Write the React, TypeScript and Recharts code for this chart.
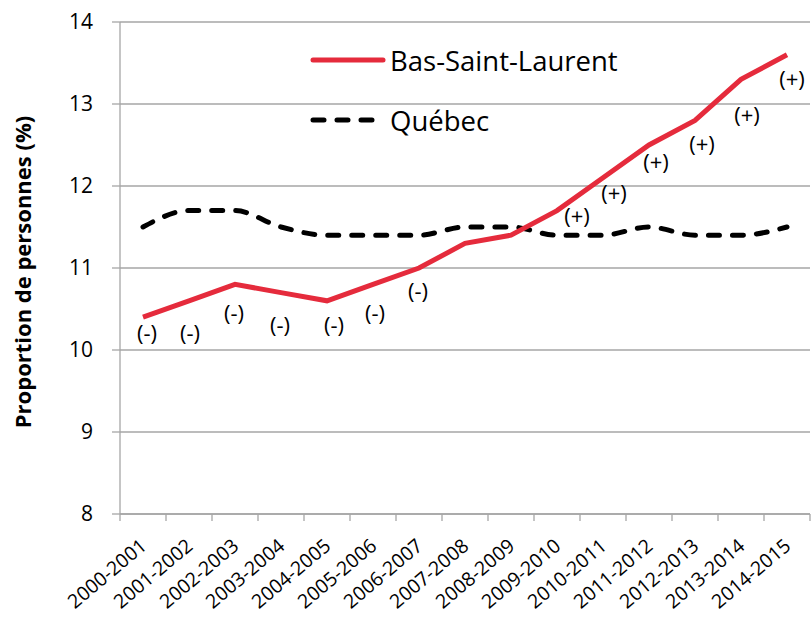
import { CartesianGrid, LabelList, Legend, Line, LineChart, XAxis, YAxis } from "recharts";

const periods = [
  "2000-2001", "2001-2002", "2002-2003", "2003-2004", "2004-2005",
  "2005-2006", "2006-2007", "2007-2008", "2008-2009", "2009-2010",
  "2010-2011", "2011-2012", "2012-2013", "2013-2014", "2014-2015",
];
const basSaintLaurent = [10.4, 10.6, 10.8, 10.7, 10.6, 10.8, 11.0, 11.3, 11.4, 11.7, 12.1, 12.5, 12.8, 13.3, 13.6];
const quebec = [11.5, 11.7, 11.7, 11.5, 11.4, 11.4, 11.4, 11.5, 11.5, 11.4, 11.4, 11.5, 11.4, 11.4, 11.5];
// écart significatif par rapport au Québec
const significance = ["(-)", "(-)", "(-)", "(-)", "(-)", "(-)", "(-)", "", "", "(+)", "(+)", "(+)", "(+)", "(+)", "(+)"];
const yTicks = [8, 9, 10, 11, 12, 13, 14];

const W = 811;
const H = 619;
const LEFT = 120;
const RIGHT = 1;
const FONT = "'Open Sans', Lato, sans-serif";
const RED = "#e52b3c";
const GRID = "#a6a6a6";
const band = (W - LEFT - RIGHT) / periods.length;

// hand-placed label nudges (px from the point), like in the original
const labelNudge: [number, number][] = [
  [4, 18], [1, 34], [-1, 31], [-1, 34], [7, 26], [2, 31], [-1, 25], [0, 0], [0, 0],
  [20, 7], [11, 17], [7, 19], [7, 26], [6, 38], [5, 26],
];

const data = periods.map((p, i) => ({
  x: i + 0.5,
  period: p,
  bsl: basSaintLaurent[i],
  qc: quebec[i],
  sig: significance[i],
}));
const boundaries = periods.map((_, i) => i).concat(periods.length);

function PeriodTick(props: any) {
  const { x, y, payload } = props;
  const i = payload.value;
  if (i >= periods.length) return null;
  const cx = x + band / 2;
  return (
    <text
      transform={`translate(${cx + 5},${y + 25}) rotate(-40)`}
      textAnchor="end"
      fontSize={19.5}
      fontFamily={FONT}
      fill="#000"
    >
      {periods[i]}
    </text>
  );
}

function SigLabel(props: any) {
  const { x, y, value, index } = props;
  if (!value) return null;
  const [dx, dy] = labelNudge[index] || [0, 26];
  return (
    <text
      x={x + dx}
      y={y + dy}
      dy={6}
      textAnchor="middle"
      fontSize={22}
      fontFamily={FONT}
      fill="#000"
    >
      {value}
    </text>
  );
}

const legendOrder = ["Bas-Saint-Laurent", "Québec"];

function ChartLegend(props: any) {
  const items = [...(props.payload || [])].sort(
    (a: any, b: any) => legendOrder.indexOf(a.value) - legendOrder.indexOf(b.value)
  );
  return (
    <div style={{ fontFamily: FONT, fontSize: 27.5 }}>
      {items.map((it: any) => {
        const dashed = it.value === "Québec";
        return (
          <div key={it.value} style={{ display: "flex", alignItems: "center", height: 60 }}>
            <svg width={80} height={10}>
              <line
                x1={3}
                y1={5}
                x2={dashed ? 65 : 73}
                y2={5}
                stroke={dashed ? "#000" : RED}
                strokeWidth={5}
                strokeLinecap="round"
                strokeDasharray={dashed ? "11 13" : undefined}
              />
            </svg>
            <span>{it.value}</span>
          </div>
        );
      })}
    </div>
  );
}

export default function App() {
  return (
    <div style={{ position: "absolute", left: 0, top: 0, width: W, height: H, background: "#fff" }}>
      <LineChart width={W} height={H} data={data} margin={{ top: 22, right: RIGHT, left: 0, bottom: 0 }}>
        <CartesianGrid stroke={GRID} strokeWidth={1.3} vertical={false} />
        <XAxis
          dataKey="x"
          type="number"
          domain={[0, periods.length]}
          ticks={boundaries}
          interval={0}
          height={H - 22 - 492}
          stroke={GRID}
          strokeWidth={1.3}
          tickSize={7}
          tick={<PeriodTick />}
        />
        <YAxis
          domain={[8, 14]}
          ticks={yTicks}
          width={LEFT}
          stroke={GRID}
          strokeWidth={1.3}
          tickSize={8}
          tickMargin={19}
          tick={{ fill: "#000", fontSize: 21, fontFamily: FONT }}
        />
        <Legend
          layout="vertical"
          align="center"
          verticalAlign="middle"
          content={<ChartLegend />}
          wrapperStyle={{ left: 310, top: 30, width: 360 }}
        />
        <Line
          name="Québec"
          dataKey="qc"
          type="monotone"
          stroke="#000"
          strokeWidth={5}
          strokeDasharray="11 13"
          strokeLinecap="round"
          dot={false}
          activeDot={false}
          isAnimationActive={false}
        />
        <Line
          name="Bas-Saint-Laurent"
          dataKey="bsl"
          type="linear"
          stroke={RED}
          strokeWidth={5}
          dot={false}
          activeDot={false}
          isAnimationActive={false}
        >
          <LabelList dataKey="sig" content={<SigLabel />} />
        </Line>
      </LineChart>
      <div
        style={{
          position: "absolute",
          left: 22,
          top: 272,
          transform: "translate(-50%, -50%) rotate(-90deg)",
          whiteSpace: "nowrap",
          fontFamily: FONT,
          fontWeight: 700,
          fontSize: 22,
          color: "#000",
        }}
      >
        Proportion de personnes (%)
      </div>
    </div>
  );
}
